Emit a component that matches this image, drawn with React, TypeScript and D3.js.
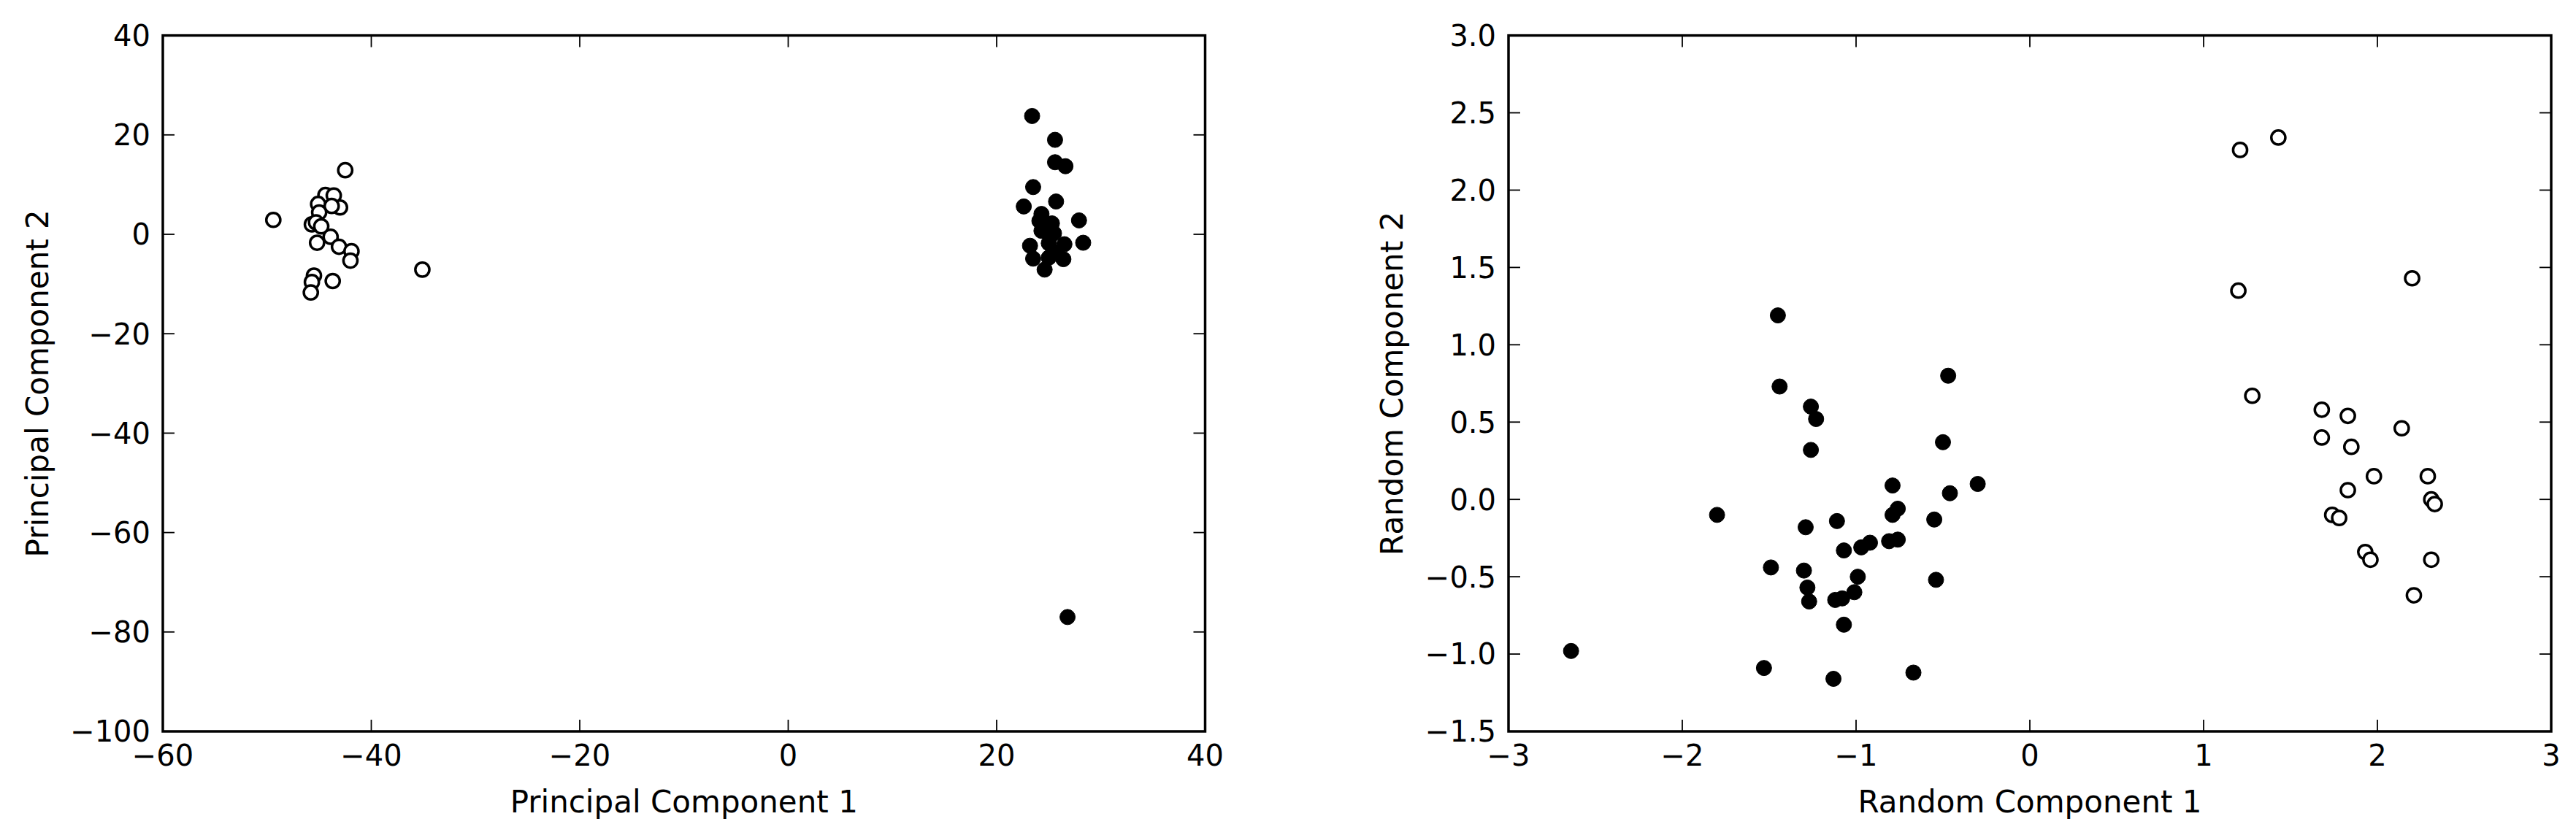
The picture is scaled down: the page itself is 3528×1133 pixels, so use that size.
import React from "react";
import * as d3 from "d3";

// PCA projection (left panel)
const pcaOpen: [number, number][] = [
  [-42.5, 12.9], [-49.4, 2.9], [-44.4, 7.9], [-43.6, 7.8], [-45.1, 6.1],
  [-43.0, 5.4], [-43.8, 5.7], [-45.0, 4.4], [-45.7, 2.0], [-45.3, 2.4],
  [-44.8, 1.6], [-43.9, -0.5], [-45.2, -1.7], [-43.1, -2.5], [-41.9, -3.4],
  [-42.0, -5.3], [-35.1, -7.1], [-45.5, -8.3], [-45.7, -9.6], [-43.7, -9.4],
  [-45.8, -11.7],
];
const pcaFilled: [number, number][] = [
  [23.4, 23.8], [25.6, 19.0], [25.6, 14.5], [26.6, 13.7], [23.5, 9.5],
  [22.6, 5.6], [25.7, 6.6], [27.9, 2.8], [28.3, -1.7], [24.3, 4.1],
  [24.1, 2.7], [25.3, 2.2], [24.3, 0.7], [25.5, 0.2], [23.2, -2.3],
  [26.5, -2.0], [25.7, -3.7], [23.5, -4.9], [26.4, -5.0], [24.6, -7.1],
  [25.0, -1.8], [25.0, -4.7], [26.8, -77.0],
];

// random projection (right panel)
const rndOpen: [number, number][] = [
  [1.21, 2.26], [1.43, 2.34], [1.2, 1.35], [2.2, 1.43], [1.28, 0.67],
  [1.68, 0.58], [1.83, 0.54], [2.14, 0.46], [1.68, 0.4], [1.85, 0.34],
  [1.98, 0.15], [2.29, 0.15], [1.83, 0.06], [2.31, 0.0], [2.33, -0.03],
  [1.74, -0.1], [1.78, -0.12], [1.93, -0.34], [1.96, -0.39], [2.31, -0.39],
  [2.21, -0.62],
];
const rndFilled: [number, number][] = [
  [-1.45, 1.19], [-1.44, 0.73], [-1.26, 0.6], [-1.23, 0.52], [-1.26, 0.32],
  [-0.47, 0.8], [-0.5, 0.37], [-0.79, 0.09], [-0.3, 0.1], [-0.46, 0.04],
  [-1.8, -0.1], [-0.76, -0.06], [-0.79, -0.1], [-0.55, -0.13], [-1.11, -0.14],
  [-1.29, -0.18], [-0.92, -0.28], [-0.97, -0.31], [-0.76, -0.26], [-0.81, -0.27],
  [-1.07, -0.33], [-1.49, -0.44], [-1.3, -0.46], [-0.54, -0.52], [-0.99, -0.5],
  [-1.01, -0.6], [-1.28, -0.57], [-1.27, -0.66], [-1.12, -0.65], [-1.08, -0.64],
  [-1.07, -0.81], [-2.64, -0.98], [-1.53, -1.09], [-1.13, -1.16], [-0.67, -1.12],
];

const pcaXTicks = [-60, -40, -20, 0, 20, 40];
const pcaYTicks = [-100, -80, -60, -40, -20, 0, 20, 40];
const rndXTicks = [-3, -2, -1, 0, 1, 2, 3];
const rndYTicks = [-1.5, -1.0, -0.5, 0.0, 0.5, 1.0, 1.5, 2.0, 2.5, 3.0];

const TOP = 48.6;
const BOTTOM = 1002;
const TICK = 16;

type PanelProps = {
  left: number;
  right: number;
  xDomain: [number, number];
  yDomain: [number, number];
  xTicks: number[];
  yTicks: number[];
  yFmt: (v: number) => string;
  openPts: [number, number][];
  filledPts: [number, number][];
  xLabel: string;
  yLabel: string;
  yLabelX: number;
};

const Panel = (p: PanelProps) => {
  const x = d3.scaleLinear().domain(p.xDomain).range([p.left, p.right]);
  const y = d3.scaleLinear().domain(p.yDomain).range([BOTTOM, TOP]);
  const xFmt = d3.format("d");
  const midY = (TOP + BOTTOM) / 2;

  return (
    <g>
      {/* ticks, inward on all four sides */}
      {p.xTicks.map(t => (
        <g key={"xt" + t}>
          <line x1={x(t)} x2={x(t)} y1={BOTTOM} y2={BOTTOM - TICK} stroke="#000" strokeWidth={1.8} />
          <line x1={x(t)} x2={x(t)} y1={TOP} y2={TOP + TICK} stroke="#000" strokeWidth={1.8} />
          <text x={x(t)} y={1049} textAnchor="middle" fontSize={40}>{xFmt(t)}</text>
        </g>
      ))}
      {p.yTicks.map(t => (
        <g key={"yt" + t}>
          <line x1={p.left} x2={p.left + TICK} y1={y(t)} y2={y(t)} stroke="#000" strokeWidth={1.8} />
          <line x1={p.right} x2={p.right - TICK} y1={y(t)} y2={y(t)} stroke="#000" strokeWidth={1.8} />
          <text x={p.left - 17} y={y(t)} dy="0.36em" textAnchor="end" fontSize={40}>{p.yFmt(t)}</text>
        </g>
      ))}

      {p.openPts.map((d, i) => (
        <circle key={"o" + i} cx={x(d[0])} cy={y(d[1])} r={9.6} fill="#fff" stroke="#000" strokeWidth={3.5} />
      ))}
      {p.filledPts.map((d, i) => (
        <circle key={"f" + i} cx={x(d[0])} cy={y(d[1])} r={10.5} fill="#000" stroke="#000" strokeWidth={1} />
      ))}

      <rect x={p.left} y={TOP} width={p.right - p.left} height={BOTTOM - TOP} fill="none" stroke="#000" strokeWidth={3.5} />

      <text x={(p.left + p.right) / 2} y={1113} textAnchor="middle" fontSize={42}>{p.xLabel}</text>
      <text
        transform={`translate(${p.yLabelX},${midY}) rotate(-90)`}
        textAnchor="middle"
        fontSize={42}
      >
        {p.yLabel}
      </text>
    </g>
  );
};

export default function App() {
  return (
    <svg
      width={3528}
      height={1133}
      style={{ position: "absolute", left: 0, top: 0, background: "#fff" }}
      fontFamily="'DejaVu Sans', sans-serif"
    >
      <rect width={3528} height={1133} fill="#fff" />
      <Panel
        left={223}
        right={1650.5}
        xDomain={[-60, 40]}
        yDomain={[-100, 40]}
        xTicks={pcaXTicks}
        yTicks={pcaYTicks}
        yFmt={d3.format("d")}
        openPts={pcaOpen}
        filledPts={pcaFilled}
        xLabel="Principal Component 1"
        yLabel="Principal Component 2"
        yLabelX={66}
      />
      <Panel
        left={2066}
        right={3494}
        xDomain={[-3, 3]}
        yDomain={[-1.5, 3]}
        xTicks={rndXTicks}
        yTicks={rndYTicks}
        yFmt={d3.format(".1f")}
        openPts={rndOpen}
        filledPts={rndFilled}
        xLabel="Random Component 1"
        yLabel="Random Component 2"
        yLabelX={1921}
      />
    </svg>
  );
}
